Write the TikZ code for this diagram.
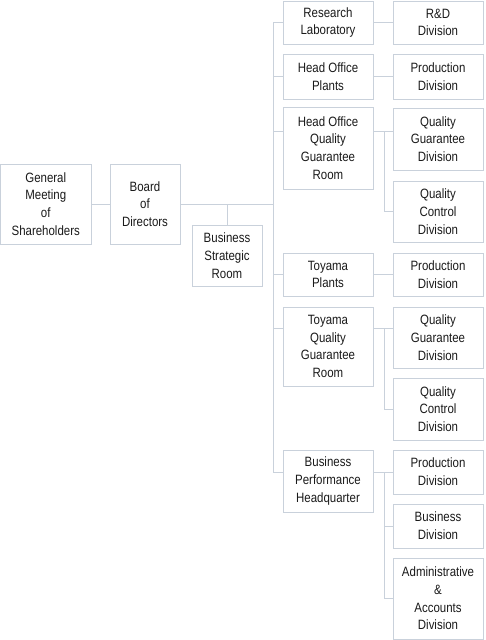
\documentclass[tikz,border=0pt]{standalone}
\usepackage{fontspec}
\setmainfont{Liberation Sans}[FakeStretch=0.85]
\definecolor{linec}{HTML}{C9D1DB}
\definecolor{textc}{HTML}{1A1A1A}
\tikzset{
  box/.style={draw=linec, line width=1pt, fill=white, inner sep=0pt, align=center,
    text=textc, font=\fontsize{13.5}{17.7}\selectfont},
  conn/.style={draw=linec, line width=1pt}
}
\newcommand{\bx}[6]{%
  \node[box, minimum width={(#4-#2)*1pt}, minimum height={(#5-#3)*1pt}] (#1) at ({(#2+#4)/2},{(#3+#5)/2}) {#6};}
\begin{document}
\begin{tikzpicture}[x=1pt, y=-1pt]
\useasboundingbox (0,0) rectangle (485,640);
% level 0/1
\bx{gm}{0.5}{164}{91}{244}{General\\Meeting\\of\\Shareholders}
\bx{bod}{110}{164}{180}{244}{Board\\of\\Directors}
\bx{bsr}{192}{225}{262}{286}{Business\\Strategic\\Room}
% column 1
\bx{rl}{283}{1}{373}{44}{Research\\Laboratory}
\bx{hop}{283}{54}{373}{99}{Head Office\\Plants}
\bx{hoq}{283}{107}{373}{189}{Head Office\\Quality\\Guarantee\\Room}
\bx{tp}{283}{253}{373}{296}{Toyama\\Plants}
\bx{tq}{283}{307}{373}{386}{Toyama\\Quality\\Guarantee\\Room}
\bx{bp}{283}{450}{373}{512}{Business\\Performance\\Headquarter}
% column 2
\bx{rd}{393}{1}{483}{44}{R\&D\\Division}
\bx{pd1}{393}{54}{483}{99}{Production\\Division}
\bx{qg1}{393}{108}{483}{170}{Quality\\Guarantee\\Division}
\bx{qc1}{393}{181}{483}{242}{Quality\\Control\\Division}
\bx{pd2}{393}{253}{483}{296}{Production\\Division}
\bx{qg2}{393}{307}{483}{368}{Quality\\Guarantee\\Division}
\bx{qc2}{393}{378}{483}{440}{Quality\\Control\\Division}
\bx{pd3}{393}{450}{483}{494}{Production\\Division}
\bx{bd}{393}{504}{483}{548}{Business\\Division}
\bx{ad}{393}{558}{483}{639}{Administrative\\\&\\Accounts\\Division}
% bus coordinates
\coordinate (bj) at (273,204);
\coordinate (bsj) at (227,204);
\coordinate (b1) at (273,22.5);
\coordinate (b2) at (273,76.5);
\coordinate (b3) at (273,131);
\coordinate (b4) at (273,274.5);
\coordinate (b5) at (273,328);
\coordinate (b6) at (273,472);
\coordinate (s1t) at (384,131);
\coordinate (s1b) at (384,211);
\coordinate (s2t) at (384,328);
\coordinate (s2b) at (384,409);
\coordinate (s3t) at (384,472);
\coordinate (s3m) at (384,526);
\coordinate (s3b) at (384,598);
% connectors
\draw[conn] (gm.east) -- (bod.west);
\draw[conn] (bod.east) -- (bj);
\draw[conn] (bsj) -- (bsr.north);
\draw[conn] (b1) -- (b6);
\draw[conn] (b1) -- (rl.west);
\draw[conn] (b2) -- (hop.west);
\draw[conn] (b3) -- (hoq.west |- b3);
\draw[conn] (b4) -- (tp.west);
\draw[conn] (b5) -- (tq.west |- b5);
\draw[conn] (b6) -- (bp.west |- b6);
\draw[conn] (rl.east) -- (rd.west);
\draw[conn] (hop.east) -- (pd1.west);
\draw[conn] (hoq.east |- s1t) -- (qg1.west |- s1t);
\draw[conn] (s1t) -- (s1b) -- (qc1.west |- s1b);
\draw[conn] (tp.east) -- (pd2.west);
\draw[conn] (tq.east |- s2t) -- (qg2.west |- s2t);
\draw[conn] (s2t) -- (s2b) -- (qc2.west |- s2b);
\draw[conn] (bp.east |- s3t) -- (pd3.west |- s3t);
\draw[conn] (s3t) -- (s3b) -- (ad.west |- s3b);
\draw[conn] (s3m) -- (bd.west |- s3m);
\end{tikzpicture}
\end{document}
